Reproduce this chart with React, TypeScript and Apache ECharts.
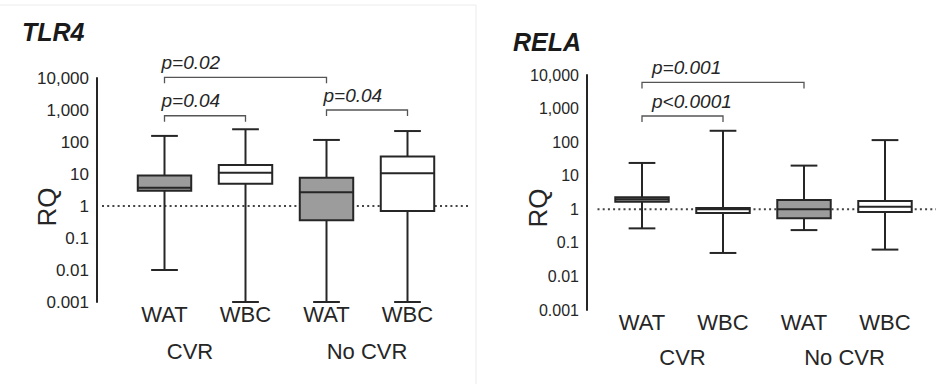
import React, { useEffect, useRef } from "react";
import * as echarts from "echarts";

// ---- data ----
const categories = ["WAT", "WBC", "WAT", "WBC"];
const groups = ["CVR", "No CVR"];
const yTickLabels = ["0.001", "0.01", "0.1", "1", "10", "100", "1,000", "10,000"];
const yMin = 0.001;
const yMax = 10000;
const referenceLevel = 1;

// each box: [min, Q1, median, Q3, max]
const tlr4Boxes = [
  [0.01, 3.0, 3.7, 9.0, 155],
  [0.001, 5.0, 11, 19, 250],
  [0.001, 0.36, 2.7, 7.7, 116],
  [0.001, 0.7, 10.5, 35, 220],
];
const relaBoxes = [
  [0.27, 1.68, 2.0, 2.28, 24],
  [0.05, 0.78, 1.0, 1.1, 218],
  [0.24, 0.54, 1.0, 1.9, 20],
  [0.063, 0.83, 1.2, 1.77, 115],
];

// brackets: [from category, to category, level, label]
const tlr4Brackets: [number, number, number, string][] = [
  [0, 2, 10500, "p=0.02"],
  [0, 1, 660, "p=0.04"],
  [2, 3, 1000, "p=0.04"],
];
const relaBrackets: [number, number, number, string][] = [
  [0, 2, 6000, "p=0.001"],
  [0, 1, 600, "p<0.0001"],
];

// ---- styles ----
const FONT = "'Liberation Sans', Arial, sans-serif";
const INK = "#262626";
const tissueFill: Record<string, string> = { WAT: "#9c9c9c", WBC: "#ffffff" };

const panels = [
  {
    title: "TLR4", titleX: 22, titleY: 32,
    grid: { left: 124, top: 78, width: 324, height: 224 },
    axisOffset: 27, labelSize: 17, rqX: 47, rqY: 207,
    lineExt: [22, 22], catMargin: 1, groupOffset: 38, groupShift: [30, 0],
    pTextShift: -3,
    boxes: tlr4Boxes, brackets: tlr4Brackets,
  },
  {
    title: "RELA", titleX: 513, titleY: 42,
    grid: { left: 601.5, top: 75, width: 324, height: 235 },
    axisOffset: 14.5, labelSize: 16, rqX: 538, rqY: 208,
    lineExt: [4, 11], catMargin: 1, groupOffset: 36, groupShift: [0, 0],
    pTextShift: 10,
    boxes: relaBoxes, brackets: relaBrackets,
  },
];

function buildOption() {
  const grids: any[] = [];
  const xAxes: any[] = [];
  const yAxes: any[] = [];
  const series: any[] = [];
  const graphics: any[] = [];

  panels.forEach((p, pi) => {
    grids.push({ ...p.grid });
    xAxes.push({
      type: "category", gridIndex: pi, data: categories,
      axisLine: { show: false }, axisTick: { show: false }, splitLine: { show: false },
      axisLabel: { fontSize: 22, color: INK, fontFamily: FONT, margin: p.catMargin, interval: 0 },
    });
    xAxes.push({
      type: "category", gridIndex: pi, position: "bottom", offset: p.groupOffset,
      data: groups.map((g, gi) => ({
        value: g,
        textStyle: { padding: [0, p.groupShift[gi], 0, 0] },
      })),
      axisLine: { show: false }, axisTick: { show: false }, splitLine: { show: false },
      axisLabel: { fontSize: 22, color: INK, fontFamily: FONT, margin: 0, interval: 0 },
    });
    yAxes.push({
      type: "log", logBase: 10, gridIndex: pi, min: yMin, max: yMax, offset: p.axisOffset,
      axisLine: { show: true, lineStyle: { color: INK, width: 2 } },
      axisTick: { show: false }, splitLine: { show: false },
      axisLabel: {
        fontSize: p.labelSize, color: INK, fontFamily: FONT, margin: 8,
        formatter: (v: number) => yTickLabels[Math.round(Math.log10(v)) - Math.round(Math.log10(yMin))],
      },
    });
    const xi = pi * 2;

    // reference dotted line at RQ = 1
    series.push({
      type: "custom", xAxisIndex: xi, yAxisIndex: pi, z: 1, clip: false, silent: true,
      data: [[0, referenceLevel]],
      encode: { x: 0, y: 1 },
      renderItem: (params: any, api: any) => {
        const y = api.coord([0, api.value(1)])[1];
        const cs = params.coordSys;
        return {
          type: "line",
          shape: { x1: cs.x - p.lineExt[0], y1: y, x2: cs.x + cs.width + p.lineExt[1], y2: y },
          style: { stroke: "#444", lineWidth: 2, lineDash: [2, 3.2] },
        };
      },
    });

    // boxes
    series.push({
      type: "custom", xAxisIndex: xi, yAxisIndex: pi, z: 2, clip: false, silent: true,
      data: p.boxes.map((b, i) => [i, ...b]),
      encode: { x: 0, y: [1, 2, 3, 4, 5] },
      renderItem: (params: any, api: any) => {
        const idx = api.value(0);
        const pts = [1, 2, 3, 4, 5].map((d) => api.coord([idx, api.value(d)]));
        const [minP, q1P, medP, q3P, maxP] = pts;
        const band = api.size([1, 0])[0];
        const bw = band * 0.66;
        const cx = minP[0];
        const st = { stroke: INK, lineWidth: 2 };
        return {
          type: "group",
          children: [
            { type: "line", shape: { x1: cx, y1: maxP[1], x2: cx, y2: minP[1] }, style: st },
            { type: "line", shape: { x1: cx - bw / 4, y1: maxP[1], x2: cx + bw / 4, y2: maxP[1] }, style: st },
            { type: "line", shape: { x1: cx - bw / 4, y1: minP[1], x2: cx + bw / 4, y2: minP[1] }, style: st },
            {
              type: "rect",
              shape: { x: cx - bw / 2, y: q3P[1], width: bw, height: q1P[1] - q3P[1] },
              style: { fill: tissueFill[categories[idx]], stroke: INK, lineWidth: 2 },
            },
            { type: "line", shape: { x1: cx - bw / 2, y1: medP[1], x2: cx + bw / 2, y2: medP[1] }, style: st },
          ],
        };
      },
    });

    // significance brackets
    series.push({
      type: "custom", xAxisIndex: xi, yAxisIndex: pi, z: 3, clip: false, silent: true,
      data: p.brackets.map((b) => [b[0], b[1], b[2]]),
      encode: { x: [0, 1], y: 2 },
      renderItem: (params: any, api: any) => {
        const b = p.brackets[params.dataIndex];
        const p1 = api.coord([api.value(0), api.value(2)]);
        const p2 = api.coord([api.value(1), api.value(2)]);
        const drop = 6;
        return {
          type: "group",
          children: [
            {
              type: "polyline",
              shape: { points: [[p1[0], p1[1] + drop], [p1[0], p1[1]], [p2[0], p2[1]], [p2[0], p2[1] + drop]] },
              style: { fill: "none", stroke: "#555", lineWidth: 1.3 },
            },
            {
              type: "text", x: p1[0] + p.pTextShift, y: p1[1] - 15,
              style: {
                text: b[3], fontSize: 19, fontStyle: "italic", fontFamily: FONT,
                fill: INK, align: "left", verticalAlign: "middle",
              },
            },
          ],
        };
      },
    });

    graphics.push({
      type: "text", x: p.titleX, y: p.titleY,
      style: {
        text: p.title, fontSize: 25, fontWeight: "bold", fontStyle: "italic",
        fontFamily: FONT, fill: "#1a1a1a", align: "left", verticalAlign: "middle",
      },
    });
    graphics.push({
      type: "text", x: p.rqX, y: p.rqY, rotation: Math.PI / 2,
      style: {
        text: "RQ", fontSize: 26, fontFamily: FONT, fill: INK,
        align: "center", verticalAlign: "middle",
      },
    });
  });

  // faint figure frame lines
  graphics.push({ type: "line", shape: { x1: 0, y1: 5, x2: 476, y2: 5 }, style: { stroke: "#ececec", lineWidth: 1 } });
  graphics.push({ type: "line", shape: { x1: 476, y1: 5, x2: 476, y2: 384 }, style: { stroke: "#ececec", lineWidth: 1 } });

  return {
    animation: false,
    backgroundColor: "#ffffff",
    grid: grids,
    xAxis: xAxes,
    yAxis: yAxes,
    series,
    graphic: graphics,
  };
}

export default function App() {
  const ref = useRef<HTMLDivElement>(null);
  useEffect(() => {
    document.body.style.margin = "0";
    if (!ref.current) return;
    const chart = echarts.init(ref.current, undefined, { renderer: "svg" });
    chart.setOption(buildOption());
    return () => chart.dispose();
  }, []);
  return <div ref={ref} style={{ width: 936, height: 387 }} />;
}
